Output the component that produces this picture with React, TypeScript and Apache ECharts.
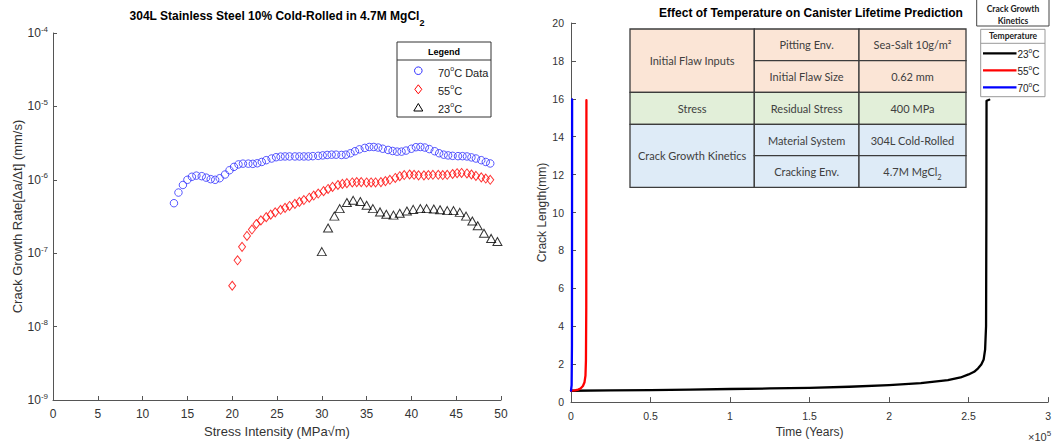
import { useEffect, useRef } from "react";
import * as echarts from "echarts";

// ---------- Left panel: crack growth rate vs stress intensity ----------
const k70 = [13.5,14.0,14.5,15.0,15.5,16.0,16.6,17.1,17.6,18.1,18.6,19.2,19.7,20.2,20.7,21.2,21.8,22.3,22.8,23.3,23.8,24.4,24.9,25.4,25.9,26.4,27.0,27.5,28.0,28.5,29.0,29.6,30.1,30.6,31.1,31.6,32.2,32.7,33.2,33.7,34.2,34.8,35.3,35.8,36.3,36.8,37.4,37.9,38.4,38.9,39.4,40.0,40.5,41.0,41.5,42.0,42.6,43.1,43.6,44.1,44.6,45.2,45.7,46.2,46.7,47.2,47.8,48.3,48.8];
const rate70 = [4.8e-7,6.7e-7,8.5e-7,1.0e-6,1.1e-6,1.14e-6,1.12e-6,1.07e-6,1.02e-6,1.0e-6,1.05e-6,1.18e-6,1.35e-6,1.5e-6,1.62e-6,1.66e-6,1.66e-6,1.65e-6,1.68e-6,1.75e-6,1.85e-6,1.95e-6,2.03e-6,2.07e-6,2.08e-6,2.08e-6,2.08e-6,2.08e-6,2.08e-6,2.08e-6,2.1e-6,2.12e-6,2.15e-6,2.18e-6,2.2e-6,2.2e-6,2.18e-6,2.2e-6,2.3e-6,2.45e-6,2.6e-6,2.72e-6,2.8e-6,2.8e-6,2.75e-6,2.65e-6,2.55e-6,2.47e-6,2.42e-6,2.42e-6,2.5e-6,2.65e-6,2.78e-6,2.8e-6,2.75e-6,2.62e-6,2.45e-6,2.3e-6,2.2e-6,2.15e-6,2.12e-6,2.1e-6,2.1e-6,2.08e-6,2.02e-6,1.95e-6,1.85e-6,1.75e-6,1.67e-6];

const k55 = [20.0,20.6,21.1,21.65,22.2,22.7,23.2,23.8,24.3,24.8,25.4,25.9,26.4,27.0,27.5,28.0,28.6,29.1,29.6,30.2,30.7,31.2,31.8,32.3,32.8,33.4,33.9,34.4,35.0,35.5,36.0,36.6,37.1,37.6,38.2,38.7,39.2,39.8,40.3,40.8,41.4,41.9,42.4,43.0,43.5,44.0,44.6,45.1,45.6,46.2,46.7,47.2,47.8,48.3,48.8];
const rate55 = [3.6e-8,8.0e-8,1.22e-7,1.72e-7,2.1e-7,2.5e-7,2.8e-7,3.1e-7,3.35e-7,3.6e-7,3.9e-7,4.15e-7,4.4e-7,4.7e-7,5.0e-7,5.3e-7,5.7e-7,6.1e-7,6.5e-7,7.0e-7,7.5e-7,8.0e-7,8.5e-7,8.8e-7,9.0e-7,9.2e-7,9.3e-7,9.3e-7,9.2e-7,9.2e-7,9.2e-7,9.3e-7,9.6e-7,1.0e-6,1.06e-6,1.12e-6,1.16e-6,1.18e-6,1.17e-6,1.15e-6,1.15e-6,1.16e-6,1.17e-6,1.17e-6,1.16e-6,1.17e-6,1.2e-6,1.23e-6,1.24e-6,1.22e-6,1.18e-6,1.13e-6,1.08e-6,1.04e-6,1.0e-6];

const k23 = [30.0,30.7,31.4,32.0,32.8,33.5,34.3,35.0,35.7,36.5,37.2,38.0,38.7,39.5,40.2,41.0,41.7,42.5,43.2,44.0,44.7,45.4,46.1,46.8,47.4,48.1,48.9,49.6];
const rate23 = [1.05e-7,2.2e-7,3.2e-7,4.05e-7,4.9e-7,5.25e-7,5.05e-7,4.5e-7,4.05e-7,3.65e-7,3.4e-7,3.3e-7,3.5e-7,3.75e-7,3.95e-7,4.05e-7,4.05e-7,4.0e-7,3.9e-7,3.8e-7,3.8e-7,3.6e-7,3.2e-7,2.75e-7,2.36e-7,1.87e-7,1.59e-7,1.44e-7];

const leftLegendLabels = ["70{sup|o}C Data", "55{sup|o}C", "23{sup|o}C"];

// ---------- Right panel: crack length vs time ----------
const timeBlack = [0,25000,50000,75000,100000,125000,150000,175000,200000,220000,237000,245000,250000,253500,256000,258000,259500,260400,261000,261200,261300,263000];
const lenBlack = [0.6,0.615,0.635,0.66,0.69,0.72,0.755,0.81,0.9,1.0,1.16,1.3,1.46,1.6,1.78,1.98,2.25,2.77,4,10,15.9,15.95];
const timeRed = [0,2500,4500,6000,7500,8500,9100,9400,9600,9700];
const lenRed = [0.6,0.62,0.66,0.72,0.85,1.05,1.4,2.2,5,15.93];
const timeBlue = [0,400,600,700];
const lenBlue = [0.6,0.9,3,15.97];

const rightLegendLabels = ["23{sup|o}C", "55{sup|o}C", "70{sup|o}C"];
const rightLegendColors = ["#000000", "#ff0000", "#0000ff"];

const tableGroups = ["Initial Flaw Inputs", "Stress", "Crack Growth Kinetics"];
const tableParams = [["Pitting Env.", "Initial Flaw Size"], ["Residual Stress"], ["Material System", "Cracking Env."]];
const tableValues = [["Sea-Salt 10g/m\u00B2", "0.62 mm"], ["400 MPa"], ["304L Cold-Rolled", "4.7M MgCl{sub|2}"]];
const tableColors = ["#fbe5d6", "#e2efd9", "#deebf7"];

const FONT = '"Liberation Sans", Arial, Helvetica, sans-serif';
const TFONT = 'Lato, "Noto Sans", sans-serif';
const AXIS = "#555555";
const LBL = "#333333";

function pairs(xs: number[], ys: number[]) {
  return xs.map((x, i) => [x, ys[i]]);
}

function txt(x: number, y: number, text: string, font: string, fill: string, align: string, rich?: any) {
  return {
    type: "text",
    x,
    y,
    z: 20,
    silent: true,
    style: {
      text,
      font,
      fill,
      align,
      textAlign: align,
      verticalAlign: "middle",
      textVerticalAlign: "middle",
      rich: rich || undefined,
    },
  };
}

function buildGraphic() {
  const els: any[] = [];
  // titles
  els.push(
    txt(277, 16, "304L Stainless Steel 10% Cold-Rolled in 4.7M MgCl{sub|2}", `bold 12px ${FONT}`, "#000", "center", {
      sub: { fontSize: 9, fontWeight: "bold", fontFamily: FONT, fill: "#000", color: "#000", lineHeight: 22, verticalAlign: "bottom" },
    })
  );
  els.push(txt(811, 13, "Effect of Temperature on Canister Lifetime Prediction", `bold 12px ${FONT}`, "#000", "center"));

  // left legend
  els.push({ type: "rect", z: 20, shape: { x: 397, y: 42, width: 94, height: 75 }, style: { fill: "#fff", stroke: "#333", lineWidth: 1 } });
  els.push({ type: "line", z: 21, shape: { x1: 397, y1: 60, x2: 491, y2: 60 }, style: { stroke: "#333", lineWidth: 1 } });
  els.push(txt(444, 51.5, "Legend", `bold 9px ${FONT}`, "#000", "center"));
  els.push({ type: "circle", z: 21, shape: { cx: 418.3, cy: 70.7, r: 3.8 }, style: { fill: "none", stroke: "#3030ff", lineWidth: 1 } });
  els.push({ type: "polygon", z: 21, shape: { points: [[418.3, 84.8], [421.8, 89.3], [418.3, 93.8], [414.8, 89.3]] }, style: { fill: "none", stroke: "#ff0000", lineWidth: 1 } });
  els.push({ type: "polygon", z: 21, shape: { points: [[418.3, 103.5], [422.8, 111], [413.8, 111]] }, style: { fill: "none", stroke: "#000", lineWidth: 1 } });
  const supL = { sup: { fontSize: 7, fontFamily: FONT, fill: "#222", color: "#222", lineHeight: 15, verticalAlign: "top" } };
  leftLegendLabels.forEach((l, i) => els.push(txt(438, 72.5 + i * 18, l, `11px ${FONT}`, "#222", "left", supL)));

  // table
  const rowsY = [29, 60.7, 92.3, 124.3, 155.7, 187.3];
  const colsX = [630, 754.3, 859, 966];
  const cellStroke = { stroke: "#3c3c3c", lineWidth: 1.3 };
  const tRich = {
    sub: { fontSize: 7.5, fontFamily: TFONT, fill: "#404040", color: "#404040", lineHeight: 20, verticalAlign: "bottom" },
  };
  let row = 0;
  tableGroups.forEach((g, gi) => {
    const n = tableParams[gi].length;
    const y0 = rowsY[row];
    const y1 = rowsY[row + n];
    els.push({ type: "rect", z: 20, shape: { x: colsX[0], y: y0, width: colsX[1] - colsX[0], height: y1 - y0 }, style: { fill: tableColors[gi], ...cellStroke } });
    els.push(txt((colsX[0] + colsX[1]) / 2, (y0 + y1) / 2, g, `11px ${TFONT}`, "#404040", "center"));
    for (let j = 0; j < n; j++) {
      const ya = rowsY[row + j];
      const yb = rowsY[row + j + 1];
      els.push({ type: "rect", z: 20, shape: { x: colsX[1], y: ya, width: colsX[2] - colsX[1], height: yb - ya }, style: { fill: tableColors[gi], ...cellStroke } });
      els.push({ type: "rect", z: 20, shape: { x: colsX[2], y: ya, width: colsX[3] - colsX[2], height: yb - ya }, style: { fill: tableColors[gi], ...cellStroke } });
      els.push(txt((colsX[1] + colsX[2]) / 2, (ya + yb) / 2, tableParams[gi][j], `11px ${TFONT}`, "#404040", "center"));
      els.push(txt((colsX[2] + colsX[3]) / 2, (ya + yb) / 2, tableValues[gi][j], `11px ${TFONT}`, "#404040", "center", tRich));
    }
    row += n;
  });

  // right legend
  els.push({ type: "rect", z: 20, shape: { x: 976.7, y: -1, width: 72.3, height: 27 }, style: { fill: "#fff", stroke: "#444", lineWidth: 1 } });
  els.push(txt(1013, 8.5, "Crack Growth", `bold 8.5px ${TFONT}`, "#222", "center"));
  els.push(txt(1013, 20.5, "Kinetics", `bold 8.5px ${TFONT}`, "#222", "center"));
  els.push({ type: "rect", z: 20, shape: { x: 980.7, y: 29.3, width: 64.3, height: 67.4 }, style: { fill: "#fff", stroke: "#999", lineWidth: 1 } });
  els.push({ type: "line", z: 21, shape: { x1: 980.7, y1: 43.3, x2: 1045, y2: 43.3 }, style: { stroke: "#999", lineWidth: 1 } });
  els.push(txt(1013, 35.5, "Temperature", `bold 8.5px ${TFONT}`, "#222", "center"));
  const supR = { sup: { fontSize: 6.5, fontFamily: FONT, fill: "#222", color: "#222", lineHeight: 14, verticalAlign: "top" } };
  rightLegendLabels.forEach((l, i) => {
    const y = 53.3 + i * 17;
    els.push({ type: "line", z: 21, shape: { x1: 983, y1: y, x2: 1016.5, y2: y }, style: { stroke: rightLegendColors[i], lineWidth: 2.2 } });
    els.push(txt(1017.5, y + 1, l, `10px ${FONT}`, "#222", "left", supR));
  });

  // x10^5 multiplier
  els.push(
    txt(1028, 437, "\u00D710{sup|5}", `11px ${FONT}`, LBL, "left", {
      sup: { fontSize: 8, fontFamily: FONT, fill: LBL, color: LBL, lineHeight: 16, verticalAlign: "top" },
    })
  );
  return els;
}

function buildOption(): any {
  const supAxis = { sup: { fontSize: 8, fontFamily: FONT, color: LBL, lineHeight: 16, verticalAlign: "top" } };
  const axisLine = { show: true, onZero: false, lineStyle: { color: AXIS, width: 1 } };
  const axisTick = { show: true, inside: true, length: 4, lineStyle: { color: AXIS } };
  const lineSeries = (name: string, xs: number[], ys: number[], color: string) => ({
    name,
    type: "line",
    xAxisIndex: 1,
    yAxisIndex: 1,
    data: pairs(xs, ys),
    showSymbol: false,
    symbol: "none",
    clip: false,
    lineStyle: { color, width: 2.3, join: "round", cap: "round" },
    silent: true,
  });
  return {
    animation: false,
    backgroundColor: "#ffffff",
    grid: [
      { left: 53, top: 33, width: 448, height: 369, show: false },
      { left: 571, top: 23, width: 482, height: 380, show: false },
    ],
    xAxis: [
      {
        gridIndex: 0,
        type: "value",
        min: 0,
        max: 50,
        interval: 5,
        axisLine,
        axisTick,
        splitLine: { show: false },
        axisLabel: { color: LBL, fontSize: 12, fontFamily: FONT, margin: 8 },
        name: "Stress Intensity (MPa\u221Am)",
        nameLocation: "middle",
        nameGap: 25,
        nameTextStyle: { color: LBL, fontSize: 13, fontFamily: FONT },
      },
      {
        gridIndex: 1,
        type: "value",
        min: 0,
        max: 300000,
        interval: 50000,
        axisLine,
        axisTick: { ...axisTick, length: 5 },
        splitLine: { show: false },
        axisLabel: {
          color: LBL,
          fontSize: 10.5,
          fontFamily: FONT,
          margin: 8,
          formatter: (v: number) => String(Math.round((v / 100000) * 10) / 10),
        },
        name: "Time (Years)",
        nameLocation: "middle",
        nameGap: 22,
        nameTextStyle: { color: LBL, fontSize: 12, fontFamily: FONT },
      },
    ],
    yAxis: [
      {
        gridIndex: 0,
        type: "log",
        logBase: 10,
        min: 1e-9,
        max: 1e-4,
        axisLine,
        axisTick,
        splitLine: { show: false },
        minorTick: { show: false },
        axisLabel: {
          color: LBL,
          fontSize: 12,
          fontFamily: FONT,
          margin: 5,
          formatter: (v: number) => `10{sup|${Math.round(Math.log10(v))}}`,
          rich: supAxis,
        },
        name: "Crack Growth Rate[\u0394a/\u0394t] (mm/s)",
        nameLocation: "middle",
        nameGap: 29,
        nameTextStyle: { color: LBL, fontSize: 13, fontFamily: FONT },
      },
      {
        gridIndex: 1,
        type: "value",
        min: 0,
        max: 20,
        interval: 2,
        axisLine,
        axisTick: { ...axisTick, length: 5 },
        splitLine: { show: false },
        axisLabel: { color: LBL, fontSize: 10.5, fontFamily: FONT, margin: 7 },
        name: "Crack Length(mm)",
        nameLocation: "middle",
        nameGap: 20,
        nameTextStyle: { color: LBL, fontSize: 12, fontFamily: FONT },
      },
    ],
    series: [
      {
        name: "70C Data",
        type: "scatter",
        xAxisIndex: 0,
        yAxisIndex: 0,
        data: pairs(k70, rate70),
        symbol: "circle",
        symbolSize: 7.5,
        itemStyle: { color: "rgba(0,0,0,0)", borderColor: "#3030ff", borderWidth: 1 },
        silent: true,
      },
      {
        name: "55C",
        type: "scatter",
        xAxisIndex: 0,
        yAxisIndex: 0,
        data: pairs(k55, rate55),
        symbol: "diamond",
        symbolSize: [7, 9],
        itemStyle: { color: "rgba(0,0,0,0)", borderColor: "#ff0000", borderWidth: 1 },
        silent: true,
      },
      {
        name: "23C",
        type: "scatter",
        xAxisIndex: 0,
        yAxisIndex: 0,
        data: pairs(k23, rate23),
        symbol: "triangle",
        symbolSize: [9, 8],
        itemStyle: { color: "rgba(0,0,0,0)", borderColor: "#000000", borderWidth: 1 },
        silent: true,
      },
      lineSeries("23 C", timeBlack, lenBlack, "#000000"),
      lineSeries("55 C", timeRed, lenRed, "#ff0000"),
      lineSeries("70 C", timeBlue, lenBlue, "#0000ff"),
    ],
    graphic: { elements: buildGraphic() },
  };
}

export default function App() {
  const ref = useRef<HTMLDivElement>(null);
  useEffect(() => {
    if (!ref.current) return;
    const chart = echarts.init(ref.current, null, { renderer: "svg" });
    chart.setOption(buildOption());
    return () => chart.dispose();
  }, []);
  return (
    <div
      ref={ref}
      style={{ position: "fixed", left: 0, top: 0, width: 1054, height: 443, background: "#fff" }}
    />
  );
}
